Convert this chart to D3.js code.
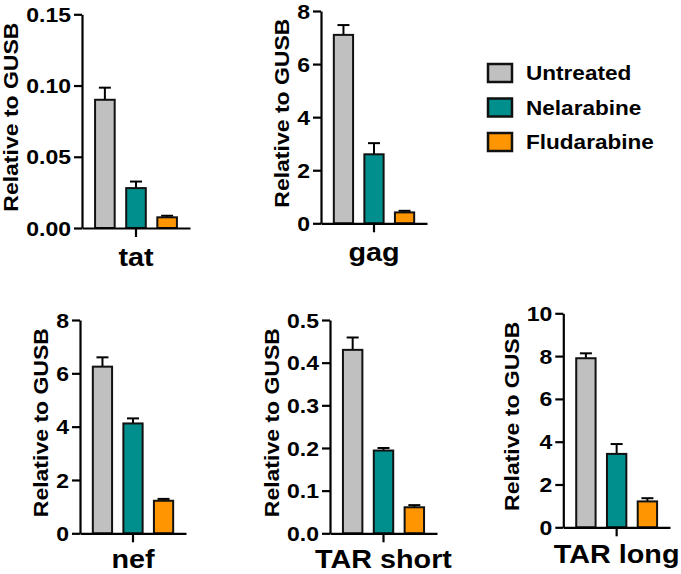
<!DOCTYPE html>
<html>
<head>
<meta charset="utf-8">
<script src="https://cdn.jsdelivr.net/npm/d3@7"></script>
<style>
  body { margin: 0; background: #fff; }
  svg text { font-family: "Liberation Sans", Arial, sans-serif; font-weight: bold; fill: #000; }
</style>
</head>
<body>
<script>
const genes = ["tat", "gag", "nef", "TAR short", "TAR long"];
const treatments = ["Untreated", "Nelarabine", "Fludarabine"];

const untreatedMean = [0.090, 7.10, 6.25, 0.430, 7.90];
const untreatedErr = [0.0085, 0.37, 0.35, 0.029, 0.23];
const nelarabineMean = [0.028, 2.60, 4.12, 0.194, 3.43];
const nelarabineErr = [0.0046, 0.42, 0.19, 0.006, 0.46];
const fludarabineMean = [0.0075, 0.41, 1.22, 0.061, 1.21];
const fludarabineErr = [0.0011, 0.06, 0.07, 0.005, 0.15];

const yMax = [0.15, 8, 8, 0.5, 10];
const yStep = [0.05, 2, 2, 0.1, 2];
const yFormat = [".2f", "d", "d", ".1f", "d"];

const colors = ["#c0c0c0", "#008f8c", "#ff9500"];

// where each small panel sits on the page
const panels = [
  { x0: 82, x1: 190, top: 14.3, zero: 228, pad: 11 },
  { x0: 321, x1: 427, top: 11, zero: 223.3, pad: 11 },
  { x0: 80, x1: 186, top: 320, zero: 533.3, pad: 8 },
  { x0: 330, x1: 437, top: 320, zero: 533.3, pad: 8 },
  { x0: 563.3, x1: 670, top: 313.3, zero: 527.3, pad: 9 }
];

const means = [untreatedMean, nelarabineMean, fludarabineMean];
const errs = [untreatedErr, nelarabineErr, fludarabineErr];

// the original font runs a bit wider than Arial, widen the glyphs
function stretch(sel, k) {
  sel.each(function () {
    const w = this.getComputedTextLength();
    d3.select(this)
      .attr("textLength", w * k)
      .attr("lengthAdjust", "spacingAndGlyphs");
  });
}

const svg = d3.select("body")
  .append("svg")
  .attr("width", 681)
  .attr("height", 574);

genes.forEach((gene, gi) => {
  const p = panels[gi];
  const g = svg.append("g");

  const y = d3.scaleLinear()
    .domain([0, yMax[gi]])
    .range([p.zero, p.top]);

  const outer = d3.scaleBand()
    .domain([gene])
    .range([p.x0, p.x1]);

  const x = d3.scaleBand()
    .domain(treatments)
    .range([p.x0, p.x1])
    .paddingInner(0.37)
    .paddingOuter(0.42);

  const rows = treatments.map((t, i) => ({
    t: t,
    mean: means[i][gi],
    err: errs[i][gi],
    color: colors[i]
  }));

  // error bars go first so bars sit over them
  const eb = g.selectAll(".err")
    .data(rows)
    .enter()
    .append("g")
    .attr("class", "err");

  eb.append("line")
    .attr("x1", d => x(d.t) + x.bandwidth() / 2)
    .attr("x2", d => x(d.t) + x.bandwidth() / 2)
    .attr("y1", d => y(d.mean))
    .attr("y2", d => y(d.mean + d.err))
    .attr("stroke", "#000")
    .attr("stroke-width", 2);

  eb.append("line")
    .attr("x1", d => x(d.t) + x.bandwidth() / 2 - 6)
    .attr("x2", d => x(d.t) + x.bandwidth() / 2 + 6)
    .attr("y1", d => y(d.mean + d.err))
    .attr("y2", d => y(d.mean + d.err))
    .attr("stroke", "#000")
    .attr("stroke-width", 2);

  g.selectAll(".bar")
    .data(rows)
    .enter()
    .append("rect")
    .attr("class", "bar")
    .attr("x", d => x(d.t))
    .attr("y", d => y(d.mean))
    .attr("width", x.bandwidth())
    .attr("height", d => y(0) - y(d.mean))
    .attr("fill", d => d.color)
    .attr("stroke", "#111")
    .attr("stroke-width", 2);

  const ticks = d3.range(0, yMax[gi] + yStep[gi] / 2, yStep[gi]);

  const yAxis = g.append("g")
    .attr("transform", `translate(${p.x0},0)`)
    .call(d3.axisLeft(y)
      .tickValues(ticks)
      .tickFormat(d3.format(yFormat[gi]))
      .tickSize(8)
      .tickSizeOuter(0)
      .tickPadding(3));
  yAxis.select(".domain").attr("stroke-width", 2.2);
  yAxis.selectAll(".tick line").attr("stroke-width", 2.2);
  yAxis.selectAll("text")
    .attr("font-size", 19.5)
    .attr("dy", "0.36em")
    .call(stretch, 1.18);

  const xAxis = g.append("g")
    .attr("transform", `translate(0,${p.zero})`)
    .call(d3.axisBottom(outer)
      .tickSize(9)
      .tickSizeOuter(0)
      .tickPadding(p.pad));
  xAxis.select(".domain").attr("stroke-width", 2.2);
  xAxis.selectAll(".tick line").attr("stroke-width", 2.2);
  xAxis.selectAll("text")
    .attr("font-size", 25)
    .call(stretch, 1.15);

  const box = yAxis.node().getBBox();
  g.append("text")
    .attr("transform", `translate(${p.x0 + box.x - 15},${(p.top + p.zero) / 2 - 4}) rotate(-90)`)
    .attr("text-anchor", "middle")
    .attr("dy", "0.36em")
    .attr("font-size", 20)
    .text("Relative to GUSB")
    .call(stretch, 1.15);
});

const legend = svg.append("g")
  .attr("transform", "translate(488,64)");

const item = legend.selectAll(".legend-item")
  .data(treatments)
  .enter()
  .append("g")
  .attr("class", "legend-item")
  .attr("transform", (d, i) => `translate(0,${i * 34.5})`);

item.append("rect")
  .attr("width", 24)
  .attr("height", 18)
  .attr("fill", (d, i) => colors[i])
  .attr("stroke", "#111")
  .attr("stroke-width", 2.5);

item.append("text")
  .attr("x", 38)
  .attr("y", 9)
  .attr("dy", "0.36em")
  .attr("font-size", 20.5)
  .text(d => d)
  .call(stretch, 1.1);
</script>
</body>
</html>
